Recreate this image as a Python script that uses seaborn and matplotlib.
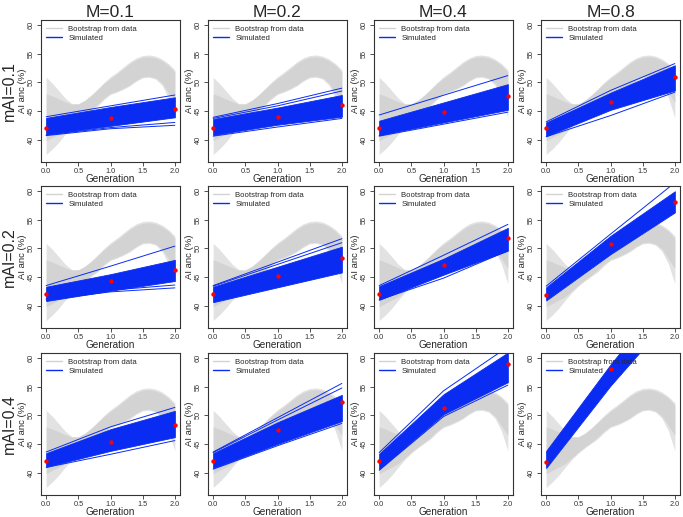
import numpy as np
import pandas as pd
import seaborn as sns
import matplotlib
matplotlib.use("Agg")
import matplotlib.pyplot as plt
from matplotlib.lines import Line2D

# Panel labels
col_titles = ["M=0.1", "M=0.2", "M=0.4", "M=0.8"]
row_titles = ["mAI=0.1", "mAI=0.2", "mAI=0.4"]
generations = [0, 1, 2]

# Bootstrap envelope (same data in every panel), read every 0.1 generation
boot_x = [0.0, 0.1, 0.2, 0.3, 0.4, 0.5, 0.6, 0.7, 0.8, 0.9, 1.0,
          1.1, 1.2, 1.3, 1.4, 1.5, 1.6, 1.7, 1.8, 1.9, 2.0]
boot_outer_hi = [50.9, 49.8, 48.5, 47.2, 46.3, 46.3, 46.9, 47.8, 48.9, 50.0, 51.0,
                 51.8, 52.7, 53.6, 54.3, 54.7, 54.8, 54.6, 54.1, 53.3, 52.2]
boot_outer_lo = [37.4, 38.4, 39.6, 41.0, 42.3, 43.4, 44.3, 45.1, 45.9, 47.0, 47.9,
                 48.3, 48.8, 49.4, 50.2, 50.8, 50.9, 50.6, 49.5, 47.3, 43.8]
boot_core_hi = [48.0, 47.6, 47.1, 46.6, 46.2, 46.2, 46.8, 47.7, 48.7, 49.8, 50.7,
                51.5, 52.4, 53.3, 54.0, 54.4, 54.5, 54.3, 53.8, 53.0, 51.8]
boot_core_lo = [39.8, 40.4, 41.0, 41.6, 42.6, 43.6, 44.5, 45.3, 46.2, 47.3, 48.1,
                48.5, 49.0, 49.6, 50.4, 51.0, 51.1, 50.8, 49.9, 48.2, 46.5]

# Observed AI ancestry (red points), panels row by row
observed = [
    [42.1, 43.7, 45.3], [42.05, 44.0, 46.1], [42.1, 44.9, 47.7], [42.0, 46.55, 50.9],
    [42.06, 44.3, 46.2], [42.06, 45.2, 48.3], [42.04, 47.06, 51.8], [41.9, 50.7, 58.2],
    [42.0, 45.3, 48.4], [42.0, 47.4, 52.4], [42.0, 51.3, 59.0], [41.9, 58.2, 72.0],
]

# Simulated trajectories: dense band limits + stray lines
sim_low = [
    [40.9, 42.4, 43.9], [40.8, 42.6, 44.0], [40.8, 43.0, 45.2], [40.6, 45.2, 48.6],
    [40.8, 42.6, 44.3], [40.6, 43.2, 45.8], [41.0, 45.4, 49.6], [40.9, 49.0, 56.3],
    [41.0, 43.8, 46.2], [40.8, 45.0, 49.0], [40.6, 50.2, 55.8], [40.8, 55.2, 68.0],
]
sim_high = [
    [43.8, 45.7, 47.4], [43.6, 45.6, 47.8], [43.3, 46.5, 49.7], [43.0, 48.2, 53.0],
    [43.3, 45.5, 48.0], [43.3, 46.8, 50.3], [43.4, 48.2, 53.6], [43.2, 52.2, 60.0],
    [43.4, 47.6, 50.8], [43.4, 48.8, 53.6], [43.3, 53.7, 61.0], [43.8, 58.9, 73.0],
]
sim_extra = [
    [[40.7, 41.9, 42.5], [40.8, 42.1, 43.0], [44.0, 45.9, 47.8]],
    [[43.9, 46.3, 49.0], [43.7, 45.9, 48.5], [40.6, 42.2, 43.7]],
    [[44.3, 47.75, 51.2], [40.6, 42.7, 44.8], [40.7, 43.2, 45.6]],
    [[43.1, 48.6, 53.3], [40.5, 44.2, 48.3]],
    [[43.5, 46.9, 50.4], [41.0, 42.4, 43.1], [41.2, 42.7, 43.6]],
    [[43.5, 47.6, 51.7], [43.4, 47.2, 51.0]],
    [[43.5, 48.8, 54.2], [41.0, 44.8, 49.6]],
    [[43.4, 52.5, 61.5]],
    [[43.6, 48.0, 51.4], [40.9, 43.2, 45.6]],
    [[43.6, 49.6, 55.6], [43.5, 49.2, 54.8], [40.6, 44.7, 48.6]],
    [[43.5, 54.3, 62.0], [40.4, 49.8, 55.3]],
    [],
]

blue = "#0a2cf2"
gray = "#d3d3d3"

sns.set_style("white")
plt.rcParams["font.family"] = ["Liberation Sans", "DejaVu Sans"]

W, H = 683, 517
fig = plt.figure(figsize=(W / 100, H / 100), dpi=100)

col_left = [41, 208, 374, 541]
row_top = [20, 186, 353]
pw, ph = 139, 142

for r in range(3):
    for c in range(4):
        k = r * 4 + c
        ax = fig.add_axes([col_left[c] / W, 1 - (row_top[r] + ph) / H, pw / W, ph / H])

        ax.fill_between(boot_x, boot_outer_lo, boot_outer_hi, color="#e2e2e2", lw=0)
        ax.fill_between(boot_x, boot_core_lo, boot_core_hi, color=gray, lw=0)

        ax.fill_between(generations, sim_low[k], sim_high[k], color=blue,
                        edgecolor=blue, lw=0.6)
        if sim_extra[k]:
            rows = []
            for i, vals in enumerate(sim_extra[k]):
                for g, v in zip(generations, vals):
                    rows.append({"line": i, "gen": g, "anc": v})
            df = pd.DataFrame(rows)
            sns.lineplot(data=df, x="gen", y="anc", units="line", estimator=None,
                         color=blue, lw=0.7, ax=ax, legend=False)

        sns.scatterplot(x=generations, y=observed[k], color="red", s=10,
                        linewidth=0, ax=ax, zorder=5)

        ax.set_xlim(-0.08, 2.08)
        ax.set_ylim(36.08, 60.92)
        ax.set_xticks([0, 0.5, 1.0, 1.5, 2.0])
        ax.set_xticklabels(["0.0", "0.5", "1.0", "1.5", "2.0"])
        ax.set_yticks([40, 45, 50, 55, 60])
        ax.tick_params(axis="both", direction="out", length=3, width=0.6,
                       labelsize=5.3, pad=1.5, colors="#333333", left=True, bottom=True)
        ax.tick_params(axis="y", labelrotation=90)
        for lab in ax.get_yticklabels():
            lab.set_va("center")
        ax.set_xlabel("Generation", fontsize=7.2)
        ax.set_ylabel("AI anc (%)", fontsize=6.8)
        ax.xaxis.set_label_coords(0.5, -0.085)
        ax.yaxis.set_label_coords(-0.098, 0.5)
        for sp in ax.spines.values():
            sp.set_color("#333333")
            sp.set_linewidth(0.8)

        handles = [Line2D([], [], color=gray, lw=1), Line2D([], [], color=blue, lw=1)]
        ax.legend(handles, ["Bootstrap from data", "Simulated"], loc="upper left",
                  bbox_to_anchor=(0, 1), borderaxespad=0, borderpad=0.7,
                  frameon=False, fontsize=5.6, handlelength=2.0,
                  handletextpad=0.8, labelspacing=0.2)

for c in range(4):
    fig.text((col_left[c] + pw / 2) / W, 1 - 12.5 / H, col_titles[c],
             ha="center", va="center", fontsize=12.5)
for r in range(3):
    fig.text(9.5 / W, 1 - (row_top[r] + ph / 2) / H, row_titles[r],
             ha="center", va="center", rotation=90, fontsize=11.5)

fig.savefig("out.png", dpi=100)
